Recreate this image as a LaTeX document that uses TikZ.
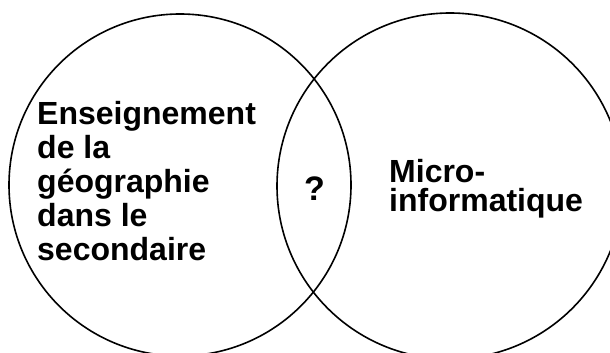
\documentclass[tikz,border=0pt]{standalone}
\usepackage{fontspec}
\setmainfont{Liberation Sans}
\begin{document}
\begin{tikzpicture}[x=1pt,y=-1pt,
  set/.style={circle, draw, line width=1.6pt, inner sep=0pt},
  label/.style={inner sep=0pt, font=\bfseries\fontsize{32}{34}\selectfont, align=left}]
  \useasboundingbox (0,0) rectangle (610,353);
  \clip (0,0) rectangle (610,353);
  % the two overlapping sets
  \node[set, minimum size=342pt] (geo) at (180,185) {};
  \node[set, minimum size=346pt] (info) at (450,186) {};
  % texts (anchored at the baseline of their last line)
  \node[label, anchor=base west] (geotext) at (37,260)
    {Enseignement\\de la\\géographie\\dans le\\secondaire};
  \node[label, anchor=base west, font=\bfseries\fontsize{34}{34}\selectfont] (ask) at (304,200) {?};
  \node[label, anchor=base west, font=\bfseries\fontsize{32}{29}\selectfont] (infotext) at (389,211)
    {Micro-\\informatique};
\end{tikzpicture}
\end{document}
